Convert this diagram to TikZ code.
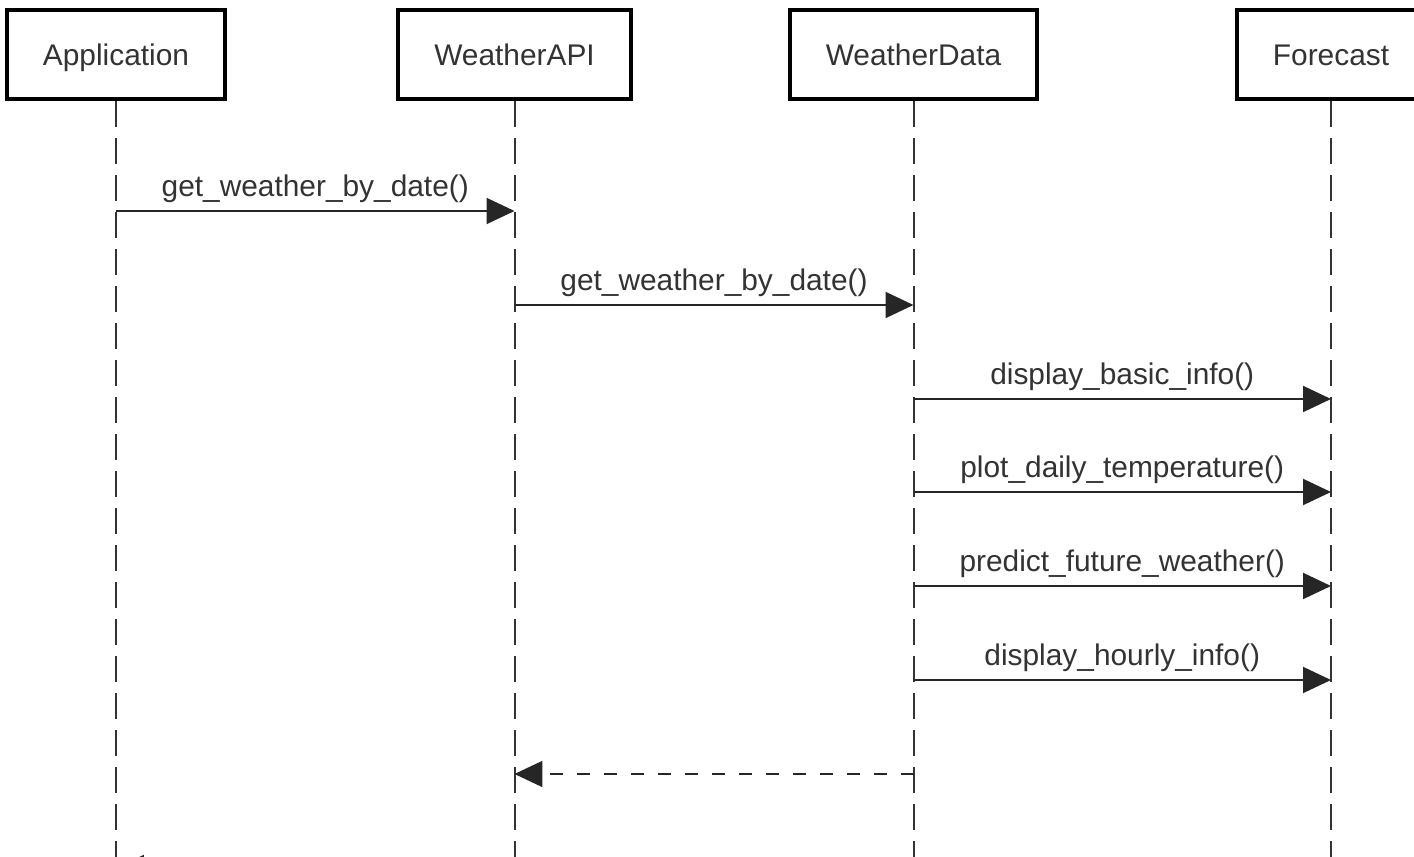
\documentclass[tikz,border=0pt]{standalone}
\usepackage{fontspec}
\setmainfont{Liberation Sans}
\usetikzlibrary{arrows.meta}

\begin{document}
\begin{tikzpicture}[x=0.02cm,y=-0.02cm,>={Triangle[length=0.56cm,width=0.52cm]},semithick,font=\fontsize{17}{20}\selectfont]
        \tikzstyle{every node}=[text=black!80]
        \tikzstyle{actor}=[rectangle, draw=black, line width=0.075cm, inner xsep=0.72cm, minimum height=1.79cm, text height=1.25em, text depth=0em]
        \tikzstyle{life}=[draw=black!80, line width=0.04cm, dash pattern=on 0.52cm off 0.22cm]
        \tikzstyle{msg}=[->, draw=black!85, line width=0.04cm]
        \tikzstyle{ret}=[msg, dash pattern=on 0.26cm off 0.28cm]
        \tikzstyle{call}=[above=2pt, inner sep=2pt]

        \path[use as bounding box, clip] (0,0) rectangle (1414,857);

        \node[actor] (app)  at (116,54.5)   {Application};
        \node[actor] (api)  at (514.5,54.5) {WeatherAPI};
        \node[actor] (data) at (913.5,54.5) {WeatherData};
        \node[actor] (fc)   at (1331,54.5)  {Forecast};

        \coordinate (bottom) at (0,900);
        \foreach \n in {app,api,data,fc}
            \draw[life] (\n.south) -- (\n.south |- bottom);

        \foreach \i/\y in {1/211,2/305,3/399,4/492,5/586,6/680,7/774,8/868}
            \coordinate (m\i) at (0,\y);

        \draw[msg] (app |- m1)  -- node[call] {get\_weather\_by\_date()} (api |- m1);
        \draw[msg] (api |- m2)  -- node[call] {get\_weather\_by\_date()} (data |- m2);
        \draw[msg] (data |- m3) -- node[call] {display\_basic\_info()} (fc |- m3);
        \draw[msg] (data |- m4) -- node[call] {plot\_daily\_temperature()} (fc |- m4);
        \draw[msg] (data |- m5) -- node[call] {predict\_future\_weather()} (fc |- m5);
        \draw[msg] (data |- m6) -- node[call] {display\_hourly\_info()} (fc |- m6);
        \draw[ret] (data |- m7) -- (api |- m7);
        \draw[ret] (api |- m8)  -- (app |- m8);

\end{tikzpicture}
\end{document}
